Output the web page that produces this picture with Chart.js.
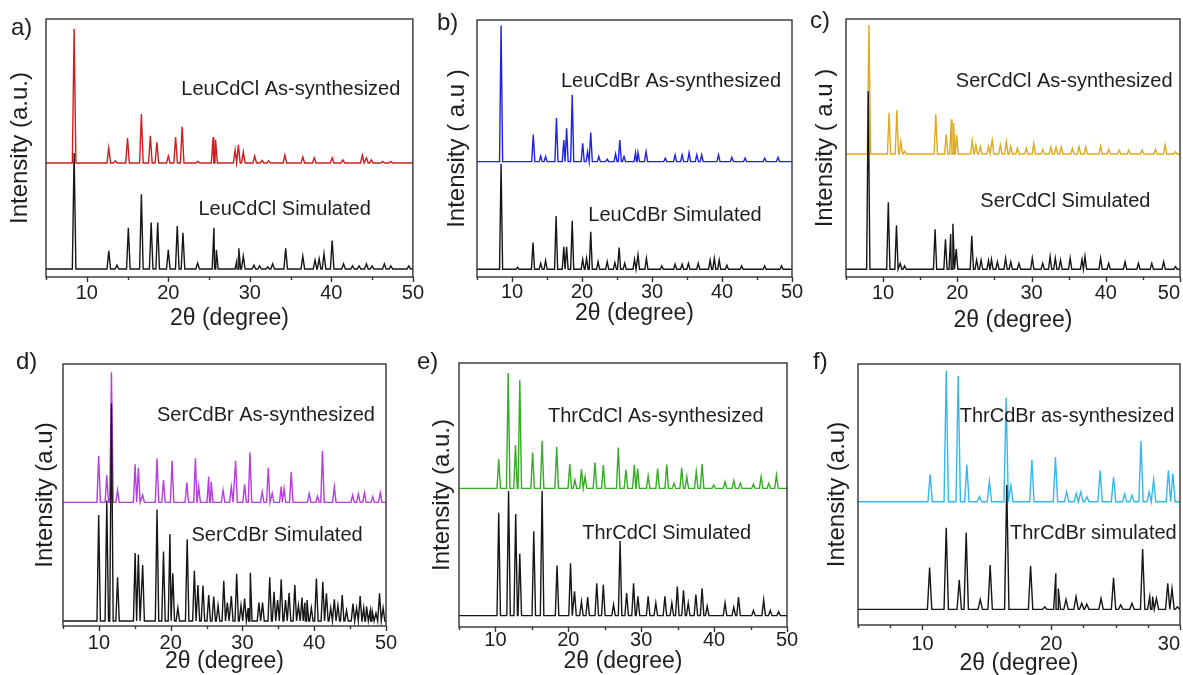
<!DOCTYPE html>
<html>
<head>
<meta charset="utf-8">
<title>PXRD patterns</title>
<script src="https://cdn.jsdelivr.net/npm/chart.js"></script>
<style>
  html, body { margin: 0; padding: 0; background: #fff; overflow: hidden; }
  body { width: 1183px; height: 675px; position: relative; }
  canvas { position: absolute; }
</style>
</head>
<body>
<canvas id="pa"></canvas>
<canvas id="pb"></canvas>
<canvas id="pc"></canvas>
<canvas id="pd"></canvas>
<canvas id="pe"></canvas>
<canvas id="pf"></canvas>
<script>
// peak positions (2theta) and heights, plot height = 100
// a) LeuCdCl
const leuCdClSimPos = [8.45, 12.7, 13.7, 15.1, 16.7, 17.9, 18.7, 20.0, 21.1, 21.8, 23.6, 25.6, 25.9, 28.4, 28.65, 29.2, 30.5, 31.2, 32.2, 32.8, 34.4, 36.5, 38.0, 38.5, 39.1, 40.1, 41.5, 42.6, 43.4, 44.3, 45.0, 46.5, 47.3, 49.5];
const leuCdClSimInt = [45, 7, 1.5, 16, 29, 18, 18, 7.4, 16.7, 14, 2.3, 16, 7.4, 3, 8, 5, 1.5, 1.2, 0.8, 2, 8, 5, 3.5, 4, 6, 11, 2, 1.2, 1.2, 2, 1.2, 2, 1.2, 1.2];
const leuCdClAsPos = [8.45, 12.7, 13.5, 15.0, 16.7, 17.8, 18.6, 20.0, 20.9, 21.7, 23.6, 25.5, 25.8, 28.2, 28.6, 29.2, 30.6, 31.5, 32.3, 34.3, 36.5, 37.9, 40.1, 41.4, 43.8, 44.3, 44.9, 46.3, 47.3];
const leuCdClAsInt = [52, 5.8, 0.8, 9.7, 19, 10.5, 8, 2.7, 10, 14, 0.6, 10, 9, 5, 7, 4.3, 2.7, 1, 0.8, 3, 2.3, 2, 2, 1.2, 3, 2, 1.2, 0.6, 0.6];
const leuCdClOffsets = [3.1, 44.2]; // simulated, as-synthesized

// b) LeuCdBr
const leuCdBrSimPos = [8.44, 10.8, 13.0, 14.1, 14.8, 16.3, 17.4, 17.8, 18.6, 20.1, 20.65, 21.25, 22.3, 23.6, 24.7, 25.3, 26.1, 27.5, 28.0, 29.2, 31.4, 33.3, 34.3, 35.2, 36.6, 38.3, 38.9, 39.6, 40.7, 42.8, 46.1, 48.5];
const leuCdBrSimInt = [41, 0.8, 10.4, 2.3, 3.4, 20.7, 8.8, 8.8, 18.9, 3.9, 4.3, 14.6, 3, 3, 2.6, 8.5, 2.3, 3.9, 5.6, 4.3, 1.3, 2, 2, 2.3, 2.3, 3.6, 4.3, 3.6, 1.6, 1.3, 1.3, 1.3];
const leuCdBrAsPos = [8.44, 13.04, 14.1, 14.8, 16.35, 17.4, 17.8, 18.6, 20.1, 20.8, 21.25, 22.4, 23.6, 24.8, 25.4, 26.0, 27.65, 28.0, 29.15, 31.9, 33.3, 34.3, 35.3, 36.4, 37.1, 39.5, 41.4, 43.3, 46.1, 48.0];
const leuCdBrAsInt = [53, 10.5, 2.2, 2, 17, 8.4, 13, 26, 7.1, 3.9, 11.3, 2, 1, 3, 8.4, 2, 3.5, 3.5, 3.9, 1.3, 2.6, 2.6, 3.5, 2.6, 2.6, 2.6, 1.7, 1.3, 1.3, 1.7];
const leuCdBrOffsets = [3.0, 44.9];

// c) SerCdCl
const serCdClSimPos = [8.0, 10.7, 11.8, 12.3, 12.9, 17.0, 18.4, 19.1, 19.4, 19.85, 21.95, 22.6, 23.2, 24.2, 24.6, 25.4, 26.5, 27.2, 28.3, 30.1, 31.5, 32.5, 33.2, 33.9, 35.2, 36.8, 37.2, 39.3, 40.4, 42.6, 44.4, 46.2, 47.8, 49.4];
const serCdClSimInt = [69, 26, 17, 2.3, 1.3, 15.5, 11.6, 13.7, 17.6, 7.8, 13, 3.6, 3.6, 3.4, 3.9, 2.9, 4.3, 2.9, 2.3, 4.3, 2.3, 5, 4.3, 3.6, 4.3, 3.9, 5, 4.3, 2.3, 2.9, 2.3, 2.3, 2.9, 1.0];
const serCdClAsPos = [8.09, 10.8, 11.85, 12.4, 12.9, 17.1, 18.5, 19.2, 19.5, 19.9, 22.0, 22.5, 23.1, 24.2, 24.7, 25.8, 26.6, 27.2, 28.1, 29.3, 30.3, 31.5, 32.6, 33.3, 34.0, 35.5, 36.4, 37.3, 39.3, 40.4, 41.8, 43.1, 44.9, 46.7, 48.0, 49.4];
const serCdClAsInt = [50, 16, 17, 4.8, 1, 15.4, 7.6, 13.4, 12, 7.4, 5.2, 3.5, 2.8, 2.8, 5.4, 3.5, 4.8, 3, 2.2, 2.2, 4.1, 1.8, 2.6, 2.6, 2.8, 2.2, 2.8, 2.6, 3.1, 1.8, 1.5, 1.5, 1.5, 1.8, 3.5, 0.9];
const serCdClOffsets = [3.0, 47.7];

// d) SerCdBr
const serCdBrSimPos = [9.97, 11.1, 11.75, 12.6, 15.05, 15.5, 16.1, 18.1, 19.0, 19.9, 20.3, 21.0, 22.3, 23.3, 23.8, 24.5, 25.3, 26.0, 26.6, 27.4, 27.9, 28.45, 29.2, 29.8, 30.3, 30.8, 31.1, 32.3, 32.8, 33.8, 34.4, 34.9, 35.4, 36.0, 36.5, 37.3, 37.8, 38.3, 38.7, 39.0, 39.6, 40.3, 41.2, 41.7, 42.3, 42.8, 43.3, 43.9, 44.5, 45.4, 45.9, 46.4, 46.9, 47.3, 47.8, 48.1, 48.6, 49.1, 49.6];
const serCdBrSimInt = [40.5, 46, 83, 16.7, 26, 25.4, 21.4, 42.6, 26.5, 33.2, 18.2, 5, 31.2, 19.2, 13.7, 13.5, 9.9, 9.3, 6, 15.4, 7, 9.5, 18, 6, 8.6, 5, 18.4, 7, 7, 16.7, 11.2, 8, 15.9, 8, 10.8, 13.7, 6, 9, 7, 8, 5, 16.2, 15, 10.6, 5, 8.3, 6, 9.9, 4, 6.7, 5, 9.5, 5, 5.5, 4, 3.6, 3, 10.6, 5];
const serCdBrAsPos = [9.97, 11.1, 11.75, 12.6, 15.05, 15.5, 16.1, 18.1, 19.0, 20.2, 22.25, 23.45, 23.9, 25.3, 25.65, 27.3, 28.45, 29.05, 30.3, 31.05, 32.75, 33.6, 34.15, 35.4, 35.8, 36.8, 39.3, 40.45, 41.15, 42.8, 45.35, 46.15, 47.0, 48.15, 49.2];
const serCdBrAsInt = [17.7, 10.4, 49.6, 4.7, 14.5, 13.2, 2.8, 16.8, 8.5, 15.9, 7.5, 16.8, 6, 9.8, 7.9, 4.7, 6, 15.9, 6.9, 19, 4, 13.2, 3.4, 6, 5.3, 11.7, 3.4, 2.4, 19.6, 6, 2.8, 3.2, 3.7, 2.2, 3.7];
const serCdBrOffsets = [1.9, 47.2];

// e) ThrCdCl
const thrCdClSimPos = [10.45, 11.8, 12.78, 13.34, 15.26, 16.4, 18.45, 20.3, 20.85, 21.8, 22.65, 23.9, 24.8, 26.2, 27.1, 28.0, 28.95, 29.55, 30.95, 32.0, 33.25, 34.2, 34.95, 35.8, 36.45, 37.5, 38.35, 39.05, 41.5, 42.7, 43.35, 45.4, 46.8, 47.7, 48.85];
const thrCdClSimInt = [39, 47.2, 38.5, 23.4, 32, 47.2, 19, 19.8, 9.2, 5.4, 7, 12.3, 11.7, 4.2, 28.3, 8.6, 12.3, 7.3, 7.3, 4.8, 7.3, 4.8, 11, 9.6, 4.8, 8, 10.4, 3.6, 4.8, 3.2, 7, 2, 6, 2, 1.5];
const thrCdClAsPos = [10.45, 11.75, 12.75, 13.34, 15.1, 16.4, 18.4, 20.2, 20.9, 21.8, 22.3, 23.65, 24.8, 26.85, 27.9, 29.05, 29.5, 30.95, 32.25, 33.5, 34.5, 35.55, 36.25, 37.55, 38.35, 39.95, 41.5, 42.7, 43.6, 45.4, 46.45, 47.5, 48.55];
const thrCdClAsInt = [11, 43.7, 16.4, 41, 13.6, 18, 15.8, 9.2, 3.2, 7.2, 4.4, 9.8, 8.8, 15.5, 7, 8.8, 7.5, 4.7, 7.5, 9, 2, 7.8, 4.4, 6.3, 9.2, 1.3, 2.5, 2.9, 1.9, 1.6, 4.4, 1.9, 5];
const thrCdClOffsets = [4.3, 52.5];

// f) ThrCdBr (5-30 deg)
const thrCdBrSimPos = [10.56, 11.85, 12.86, 13.4, 14.49, 15.26, 16.55, 18.4, 19.5, 20.36, 20.55, 21.15, 21.93, 22.37, 22.76, 23.87, 24.84, 25.4, 26.27, 27.1, 27.65, 27.88, 28.17, 29.05, 29.38, 29.8];
const thrCdBrSimInt = [16, 31.3, 11.2, 29.4, 3.8, 17, 47.6, 16.7, 1, 13.8, 8, 3.8, 4.9, 2.3, 2, 4.2, 12.1, 1.7, 2.3, 23.1, 4.9, 4.9, 4.2, 10, 8, 1];
const thrCdBrAsPos = [10.6, 11.85, 12.78, 13.45, 14.43, 15.2, 16.5, 16.87, 18.5, 20.33, 21.2, 21.94, 22.3, 22.77, 23.8, 24.84, 25.7, 26.27, 26.97, 27.6, 27.95, 29.1, 29.45];
const thrCdBrAsInt = [10.5, 50.2, 48.2, 14.3, 2, 7.9, 40, 6.4, 16, 17.2, 3.8, 3.2, 3.8, 1.9, 12.1, 9.6, 3, 2.5, 23.4, 3.8, 8.5, 12.1, 10.8];
const thrCdBrOffsets = [6.0, 47.2];

const xTitle = '2\u03b8 (degree)';
const AXIS = '#333333';
const TEXT = '#1e1e1e';
const FONT = '"Liberation Sans", Arial, sans-serif';

// one diffraction trace: flat baseline with a sharp peak at each reflection
function buildTrace(positions, heights, offset, xMin, xMax, hw) {
  const pts = [{x: xMin, y: offset}, {x: xMax, y: offset}];
  positions.forEach(function(p, i) {
    pts.push({x: p - hw, y: offset}, {x: p, y: offset + heights[i]}, {x: p + hw, y: offset});
  });
  pts.sort(function(a, b) { return a.x - b.x; });
  return pts;
}

// frame, tick marks, panel letter and curve labels
const decorPlugin = {
  id: 'decor',
  afterDraw: function(chart) {
    const ctx = chart.ctx;
    const area = chart.chartArea;
    const xs = chart.scales.x;
    const ys = chart.scales.y;
    const cfg = chart.options.plugins.decor;
    ctx.save();
    ctx.strokeStyle = AXIS;
    ctx.lineWidth = 1.4;
    ctx.strokeRect(area.left, area.top, area.right - area.left, area.bottom - area.top);
    xs.ticks.forEach(function(t) {
      const px = Math.round(xs.getPixelForValue(t.value)) + 0.5;
      const len = (t.value % 10 === 0) ? 5 : 3;
      ctx.beginPath();
      ctx.moveTo(px, area.bottom);
      ctx.lineTo(px, area.bottom + len);
      ctx.stroke();
    });
    ctx.fillStyle = TEXT;
    ctx.textBaseline = 'middle';
    ctx.textAlign = 'left';
    ctx.font = '24px ' + FONT;
    ctx.fillText(cfg.letter, cfg.letterX, cfg.letterY);
    ctx.font = '20px ' + FONT;
    cfg.notes.forEach(function(n) {
      ctx.fillText(n.text, xs.getPixelForValue(n.x), ys.getPixelForValue(n.y));
    });
    ctx.restore();
  }
};

const panels = [
  {id: 'pa', left: 0, top: 0, w: 425, h: 338, plotLeft: 46, plotTop: 19, padRight: 11, xAxisH: 61,
   xMax: 50, step: 5, hw: 0.22, color: '#d11c1c', yTitle: 'Intensity (a.u.)', yPad: 8, xPad: 8, tickPad: 1, tickAlign: 'center',
   sim: [leuCdClSimPos, leuCdClSimInt], as: [leuCdClAsPos, leuCdClAsInt], offsets: leuCdClOffsets,
   letter: 'a)', letterX: 11, letterY: 28,
   notes: [{text: 'LeuCdCl As-synthesized', x: 21.6, y: 72.5}, {text: 'LeuCdCl Simulated', x: 23.7, y: 26}]},
  {id: 'pb', left: 425, top: 0, w: 383, h: 338, plotLeft: 52, plotTop: 20, padRight: 16, xAxisH: 61,
   xMax: 50, step: 5, hw: 0.22, color: '#1c22e6', yTitle: 'Intensity ( a.u )', yPad: 20, xPad: 13, tickPad: 0, tickAlign: 'center',
   sim: [leuCdBrSimPos, leuCdBrSimInt], as: [leuCdBrAsPos, leuCdBrAsInt], offsets: leuCdBrOffsets,
   letter: 'b)', letterX: 12, letterY: 23,
   notes: [{text: 'LeuCdBr As-synthesized', x: 17.0, y: 75.9}, {text: 'LeuCdBr Simulated', x: 20.9, y: 24.1}]},
  {id: 'pc', left: 808, top: 0, w: 390, h: 338, plotLeft: 38, plotTop: 19, padRight: 18, xAxisH: 61,
   xMax: 50, step: 5, hw: 0.22, color: '#e0aa1e', yTitle: 'Intensity ( a.u )', yPad: 5, xPad: 6, tickPad: 1, tickAlign: 'inner',
   sim: [serCdClSimPos, serCdClSimInt], as: [serCdClAsPos, serCdClAsInt], offsets: serCdClOffsets,
   letter: 'c)', letterX: 2, letterY: 21,
   notes: [{text: 'SerCdCl As-synthesized', x: 19.8, y: 75.6}, {text: 'SerCdCl Simulated', x: 23.1, y: 29.1}]},
  {id: 'pd', left: 0, top: 338, w: 410, h: 337, plotLeft: 63, plotTop: 26, padRight: 24, xAxisH: 49,
   xMax: 50, step: 5, hw: 0.24, color: '#b83ce0', yTitle: 'Intensity (a.u)', yPad: 33, xPad: 2, tickPad: 2, tickAlign: 'center',
   sim: [serCdBrSimPos, serCdBrSimInt], as: [serCdBrAsPos, serCdBrAsInt], offsets: serCdBrOffsets,
   letter: 'd)', letterX: 16, letterY: 24,
   notes: [{text: 'SerCdBr As-synthesized', x: 18.1, y: 80.2}, {text: 'SerCdBr Simulated', x: 22.9, y: 34.7}]},
  {id: 'pe', left: 410, top: 338, w: 390, h: 337, plotLeft: 49, plotTop: 25, padRight: 13, xAxisH: 48,
   xMax: 50, step: 5, hw: 0.24, color: '#33ad22', yTitle: 'Intensity (a.u.)', yPad: 20, xPad: 2, tickPad: -2, tickAlign: 'center',
   sim: [thrCdClSimPos, thrCdClSimInt], as: [thrCdClAsPos, thrCdClAsInt], offsets: thrCdClOffsets,
   letter: 'e)', letterX: 7, letterY: 24,
   notes: [{text: 'ThrCdCl As-synthesized', x: 17.2, y: 79.9}, {text: 'ThrCdCl Simulated', x: 21.9, y: 35.6}]},
  {id: 'pf', left: 800, top: 338, w: 398, h: 337, plotLeft: 58, plotTop: 26, padRight: 18, xAxisH: 50,
   xMax: 30, step: 2.5, hw: 0.17, color: '#33b8ef', yTitle: 'Intensity (a.u)', yPad: 25, xPad: 0, tickPad: 4, tickAlign: 'inner',
   sim: [thrCdBrSimPos, thrCdBrSimInt], as: [thrCdBrAsPos, thrCdBrAsInt], offsets: thrCdBrOffsets,
   letter: 'f)', letterX: 13, letterY: 24,
   notes: [{text: 'ThrCdBr as-synthesized', x: 12.9, y: 79.7}, {text: 'ThrCdBr simulated', x: 16.8, y: 35.2}]}
];

panels.forEach(function(p) {
  const canvas = document.getElementById(p.id);
  canvas.width = p.w;
  canvas.height = p.h;
  canvas.style.left = p.left + 'px';
  canvas.style.top = p.top + 'px';

  new Chart(canvas.getContext('2d'), {
    type: 'line',
    data: {
      datasets: [
        {
          label: 'Simulated',
          data: buildTrace(p.sim[0], p.sim[1], p.offsets[0], 5, p.xMax, p.hw),
          borderColor: '#161616',
          borderWidth: 1.4,
          pointRadius: 0,
          tension: 0
        },
        {
          label: 'As-synthesized',
          data: buildTrace(p.as[0], p.as[1], p.offsets[1], 5, p.xMax, p.hw),
          borderColor: p.color,
          borderWidth: 1.4,
          pointRadius: 0,
          tension: 0
        }
      ]
    },
    options: {
      responsive: false,
      animation: false,
      events: [],
      layout: { padding: { left: 0, top: p.plotTop, right: p.padRight, bottom: 0 } },
      plugins: {
        legend: { display: false },
        tooltip: { enabled: false },
        decor: { letter: p.letter, letterX: p.letterX, letterY: p.letterY, notes: p.notes }
      },
      scales: {
        x: {
          type: 'linear',
          min: 5,
          max: p.xMax,
          afterFit: function(scale) { scale.height = p.xAxisH; },
          border: { display: false },
          grid: { drawOnChartArea: false, drawTicks: true, tickLength: 5, tickColor: 'rgba(0,0,0,0)' },
          ticks: {
            stepSize: p.step,
            autoSkip: false,
            maxRotation: 0,
            align: p.tickAlign,
            padding: p.tickPad,
            color: TEXT,
            font: { family: FONT, size: 20, lineHeight: 1 },
            callback: function(v) { return v % 10 === 0 ? String(v) : ''; }
          },
          title: {
            display: true,
            text: xTitle,
            color: TEXT,
            font: { family: FONT, size: 23, lineHeight: 1 },
            padding: { top: 0, bottom: p.xPad }
          }
        },
        y: {
          min: 0,
          max: 100,
          afterFit: function(scale) { scale.width = p.plotLeft; },
          border: { display: false },
          grid: { display: false, drawTicks: false },
          ticks: { display: false },
          title: {
            display: true,
            text: p.yTitle,
            color: TEXT,
            font: { family: FONT, size: 24, lineHeight: 1 },
            padding: { top: p.yPad, bottom: 0 }
          }
        }
      }
    },
    plugins: [decorPlugin]
  });
});
</script>
</body>
</html>
